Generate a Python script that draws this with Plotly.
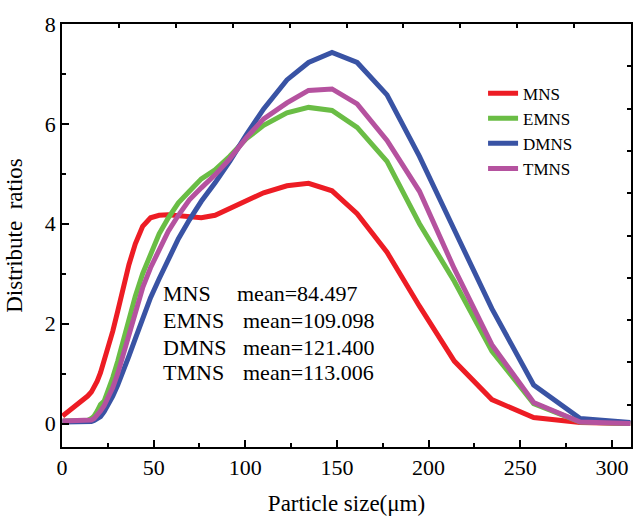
import plotly.graph_objects as go

# Particle size (um)
sizes = [0.3, 2, 4, 6, 8, 10, 12, 14, 16, 17.5, 19.2, 21, 23, 25.3, 27.7, 30.4, 33.3,
         36.5, 40, 44, 48.3, 53, 58, 63.5, 69.5, 76, 83.5, 91.5, 100.5, 110, 122.7,
         134.5, 147.3, 161, 177.3, 195, 214, 234.5, 257.3, 282.7, 310]

mns = [0.15, 0.2, 0.26, 0.31, 0.36, 0.41, 0.47, 0.55, 0.63, 0.72, 0.85, 1.02, 1.25, 1.52,
       1.85, 2.25, 2.7, 3.18, 3.6, 3.95, 4.12, 4.17, 4.18, 4.16, 4.13, 4.12, 4.17, 4.3,
       4.45, 4.62, 4.76, 4.81, 4.66, 4.2, 3.43, 2.35, 1.25, 0.48, 0.12, 0.02, 0.0]

emns = [0.05, 0.05, 0.05, 0.05, 0.05, 0.05, 0.05, 0.06, 0.1, 0.15, 0.25, 0.38, 0.45, 0.65,
        0.92, 1.25, 1.65, 2.08, 2.55, 3.0, 3.4, 3.8, 4.12, 4.42, 4.65, 4.9, 5.08, 5.35,
        5.7, 5.97, 6.22, 6.33, 6.27, 5.93, 5.25, 4.0, 2.85, 1.45, 0.4, 0.03, 0.0]

dmns = [0.03, 0.03, 0.03, 0.03, 0.03, 0.03, 0.03, 0.03, 0.04, 0.06, 0.09, 0.14, 0.24, 0.38,
        0.55, 0.77, 1.03, 1.35, 1.7, 2.1, 2.52, 2.9, 3.3, 3.7, 4.08, 4.45, 4.82, 5.25,
        5.78, 6.3, 6.88, 7.23, 7.43, 7.23, 6.58, 5.35, 3.88, 2.3, 0.77, 0.1, 0.02]

tmns = [0.05, 0.05, 0.05, 0.05, 0.05, 0.05, 0.05, 0.05, 0.07, 0.1, 0.16, 0.25, 0.36, 0.52,
        0.72, 1.0, 1.38, 1.8, 2.25, 2.72, 3.12, 3.5, 3.85, 4.17, 4.48, 4.72, 4.98, 5.3,
        5.72, 6.1, 6.42, 6.67, 6.7, 6.4, 5.67, 4.65, 3.1, 1.58, 0.42, 0.03, 0.0]

series_names = ["MNS", "EMNS", "DMNS", "TMNS"]
series_colors = ["#ED1C24", "#6ABD45", "#3953A4", "#B5529F"]
mean_labels = ["mean=84.497", "mean=109.098", "mean=121.400", "mean=113.006"]

x_ticks = [0, 50, 100, 150, 200, 250, 300]
y_ticks = [0, 2, 4, 6, 8]

FONT = "Liberation Serif, Times New Roman, serif"

fig = go.Figure()
for name, color, vals in zip(series_names, series_colors, [mns, emns, dmns, tmns]):
    fig.add_trace(go.Scatter(x=sizes, y=vals, mode="lines", name=name,
                             line=dict(color=color, width=5)))

# dummy traces to activate the top and right tick axes
fig.add_trace(go.Scatter(x=[None], y=[None], xaxis="x2", yaxis="y", showlegend=False,
                         hoverinfo="skip"))
fig.add_trace(go.Scatter(x=[None], y=[None], xaxis="x", yaxis="y2", showlegend=False,
                         hoverinfo="skip"))

# mean annotations
name_x = 54.0
mean_x = [94.5, 97.5, 97.5, 97.5]
ann_y = [2.6, 2.07, 1.53, 1.03]
for i in range(4):
    fig.add_annotation(x=name_x, y=ann_y[i], xref="x", yref="y", text=series_names[i],
                       showarrow=False, xanchor="left", yanchor="middle",
                       font=dict(family=FONT, size=22, color="black"))
    fig.add_annotation(x=mean_x[i], y=ann_y[i], xref="x", yref="y", text=mean_labels[i],
                       showarrow=False, xanchor="left", yanchor="middle",
                       font=dict(family=FONT, size=22, color="black"))

axis_common = dict(showline=True, linecolor="black", linewidth=1.5, mirror=True,
                   showgrid=False, zeroline=False, ticks="inside", ticklen=7,
                   tickwidth=1.5, tickcolor="black", automargin=False,
                   tickfont=dict(family=FONT, size=22, color="black"))

fig.update_layout(
    width=633, height=516,
    margin=dict(l=62, r=2, t=24, b=69),
    paper_bgcolor="white", plot_bgcolor="white",
    font=dict(family=FONT, color="black"),
    xaxis=dict(range=[0, 310.4], tickvals=x_ticks,
               minor=dict(dtick=25, tick0=0, ticks="inside", ticklen=4, tickwidth=1.5,
                          tickcolor="black", showgrid=False),
               title=dict(text="Particle size(μm)", font=dict(family=FONT, size=23),
                          standoff=16),
               **axis_common),
    yaxis=dict(range=[-0.47, 8], tickvals=y_ticks,
               minor=dict(dtick=1, tick0=0, ticks="inside", ticklen=4, tickwidth=1.5,
                          tickcolor="black", showgrid=False),
               title=dict(text="Distribute\u00a0 ratios", font=dict(family=FONT, size=23),
                          standoff=16),
               **axis_common),
    xaxis2=dict(overlaying="x", side="top", anchor="y", range=[0, 10], dtick=1,
                ticks="inside", ticklen=4, tickwidth=1.5, tickcolor="black",
                showticklabels=False, showline=False, showgrid=False, zeroline=False,
                automargin=False),
    yaxis2=dict(overlaying="y", side="right", anchor="x", range=[0, 10], dtick=1,
                ticks="inside", ticklen=4, tickwidth=1.5, tickcolor="black",
                showticklabels=False, showline=False, showgrid=False, zeroline=False,
                automargin=False),
    legend=dict(x=0.74, y=0.878, xanchor="left", yanchor="top",
                bgcolor="rgba(0,0,0,0)", borderwidth=0,
                font=dict(family=FONT, size=17, color="black"),
                tracegroupgap=0),
    showlegend=True,
)

fig.write_html("out.html",
               config={"displayModeBar": False},
               post_script="document.body.style.margin='0';"
                           "document.body.style.overflow='hidden';")
